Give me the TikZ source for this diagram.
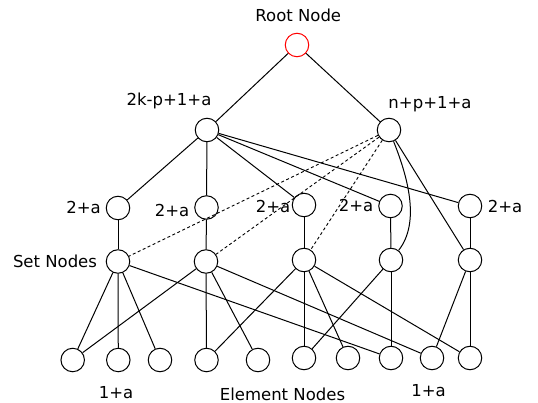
\documentclass[tikz,border=0pt]{standalone}
\usepackage{fontspec}
\setmainfont{DejaVu Sans}
\begin{document}
\begin{tikzpicture}[x=1pt,y=-1pt,
  vert/.style={circle,draw,line width=1pt,minimum size=23.5pt,inner sep=0pt},
  lbl/.style={font=\fontsize{16.5}{19}\selectfont,inner sep=0pt,anchor=base},
  edge/.style={line width=1pt},
  dashedge/.style={line width=0.9pt,dash pattern=on 3pt off 2.5pt}]
\useasboundingbox (0,0) rectangle (538,403);
% nodes
\node[vert,draw=red] (R) at (297,45) {};
\node[vert] (A) at (207,130) {};
\node[vert] (B) at (389,130) {};
\node[vert] (T1) at (118,208) {};
\node[vert] (T2) at (206.5,207.5) {};
\node[vert] (T3) at (304,205) {};
\node[vert] (T4) at (390.5,206) {};
\node[vert] (T5) at (470,206) {};
\node[vert] (S1) at (118,261.5) {};
\node[vert] (S2) at (206,261.5) {};
\node[vert] (S3) at (304,260) {};
\node[vert] (S4) at (391,260) {};
\node[vert] (S5) at (470,260) {};
\node[vert] (E1) at (72.7,360) {};
\node[vert] (E2) at (118.3,360) {};
\node[vert] (E3) at (160,360) {};
\node[vert] (E4) at (206.5,360) {};
\node[vert] (E5) at (258,360) {};
\node[vert] (E6) at (304,358) {};
\node[vert] (E7) at (348,358) {};
\node[vert] (E8) at (391,358) {};
\node[vert] (E9) at (432,358) {};
\node[vert] (E10) at (470,358) {};
% labels
\node[lbl] (lroot) at (298.3,21.7) {Root Node};
\node[lbl] (lA) at (169,106) {2k-p+1+a};
\node[lbl] (lB) at (430,109) {n+p+1+a};
\node[lbl] (l1) at (83.5,214) {2+a};
\node[lbl] (l2) at (172,216.7) {2+a};
\node[lbl] (l3) at (273,212.7) {2+a};
\node[lbl] (l4) at (356,211.7) {2+a};
\node[lbl] (l5) at (505,212.5) {2+a};
\node[lbl] (lset) at (55,268) {Set Nodes};
\node[lbl] (le1) at (116,398) {1+a};
\node[lbl] (lel) at (282.5,400) {Element Nodes};
\node[lbl] (le2) at (428.5,396.7) {1+a};
% edges
\draw[edge] (R) -- (A);
\draw[edge] (R) -- (B);
\foreach \t in {T1,T2,T3,T4,T5} \draw[edge] (A) -- (\t);
\foreach \i in {1,2,3,4,5} \draw[edge] (T\i) -- (S\i);
\foreach \s in {S1,S2,S3} \draw[dashedge] (B) -- (\s);
\draw[edge] (B) .. controls +(18,45) and +(30,-38) .. (S4);
\draw[edge] (B) -- (S5);
\foreach \e in {E1,E2,E3,E8} \draw[edge] (S1) -- (\e);
\foreach \e in {E1,E4,E5,E9} \draw[edge] (S2) -- (\e);
\foreach \e in {E4,E6,E7,E10} \draw[edge] (S3) -- (\e);
\foreach \e in {E6,E8} \draw[edge] (S4) -- (\e);
\foreach \e in {E9,E10} \draw[edge] (S5) -- (\e);
\end{tikzpicture}
\end{document}
